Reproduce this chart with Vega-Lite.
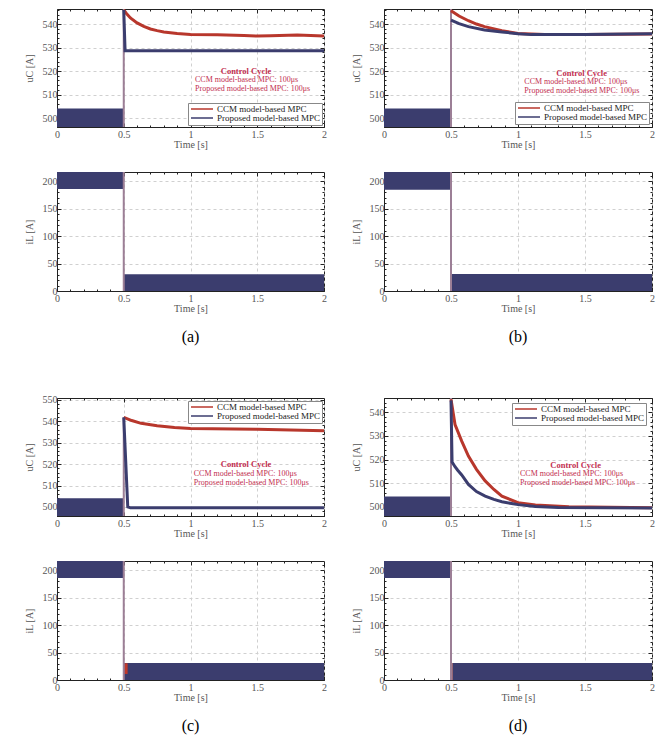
{
"$schema":"https://vega.github.io/schema/vega-lite/v6.json",
"padding":{"left":23,"top":4,"right":5,"bottom":5},
"datasets":{
"bands":[
{"panel":"a1","series":"Proposed","t0":0,"t1":0.5,"lo":496.2,"hi":504.1},
{"panel":"b1","series":"Proposed","t0":0,"t1":0.5,"lo":496.2,"hi":504.1},
{"panel":"c1","series":"Proposed","t0":0,"t1":0.5,"lo":495.8,"hi":504.1},
{"panel":"d1","series":"Proposed","t0":0,"t1":0.5,"lo":496.2,"hi":504.4},
{"panel":"a2","series":"Proposed","t0":0,"t1":0.5,"lo":186,"hi":217},
{"panel":"a2","series":"Proposed","t0":0.5,"t1":2,"lo":0,"hi":30.5},
{"panel":"b2","series":"Proposed","t0":0,"t1":0.5,"lo":184.5,"hi":217},
{"panel":"b2","series":"Proposed","t0":0.5,"t1":2,"lo":0,"hi":31},
{"panel":"c2","series":"Proposed","t0":0,"t1":0.5,"lo":186,"hi":217},
{"panel":"c2","series":"Proposed","t0":0.5,"t1":2,"lo":0,"hi":31},
{"panel":"c2","series":"CCM","t0":0.504,"t1":0.529,"lo":11,"hi":30.5},
{"panel":"d2","series":"Proposed","t0":0,"t1":0.5,"lo":186,"hi":217},
{"panel":"d2","series":"Proposed","t0":0.51,"t1":2,"lo":0,"hi":31},
{"panel":"d2","series":"CCM","t0":0.503,"t1":0.51,"lo":0,"hi":31}
],
"rules":[
{"panel":"a1","t":0.5,"lo":496.2,"hi":546.4},
{"panel":"b1","t":0.5,"lo":496.2,"hi":546.4},
{"panel":"c1","t":0.5,"lo":495.8,"hi":541.8},
{"panel":"d1","t":0.5,"lo":496.2,"hi":546},
{"panel":"a2","t":0.5,"lo":0,"hi":217},
{"panel":"b2","t":0.5,"lo":0,"hi":217},
{"panel":"c2","t":0.5,"lo":0,"hi":217},
{"panel":"d2","t":0.5,"lo":0,"hi":217}
],
"lines":[
{"panel":"a1","series":"CCM model-based MPC","t":0.5,"v":546},
{"panel":"a1","series":"CCM model-based MPC","t":0.52,"v":544.5},
{"panel":"a1","series":"CCM model-based MPC","t":0.55,"v":542.6},
{"panel":"a1","series":"CCM model-based MPC","t":0.6,"v":540.5},
{"panel":"a1","series":"CCM model-based MPC","t":0.65,"v":539},
{"panel":"a1","series":"CCM model-based MPC","t":0.7,"v":537.9},
{"panel":"a1","series":"CCM model-based MPC","t":0.75,"v":537.2},
{"panel":"a1","series":"CCM model-based MPC","t":0.8,"v":536.6},
{"panel":"a1","series":"CCM model-based MPC","t":0.9,"v":536},
{"panel":"a1","series":"CCM model-based MPC","t":1.0,"v":535.6},
{"panel":"a1","series":"CCM model-based MPC","t":1.2,"v":535.4},
{"panel":"a1","series":"CCM model-based MPC","t":1.4,"v":535.1},
{"panel":"a1","series":"CCM model-based MPC","t":1.5,"v":534.9},
{"panel":"a1","series":"CCM model-based MPC","t":1.6,"v":535},
{"panel":"a1","series":"CCM model-based MPC","t":1.8,"v":535.3},
{"panel":"a1","series":"CCM model-based MPC","t":2.0,"v":534.9},
{"panel":"a1","series":"Proposed model-based MPC","t":0.5,"v":546},
{"panel":"a1","series":"Proposed model-based MPC","t":0.51,"v":528.6},
{"panel":"a1","series":"Proposed model-based MPC","t":2.0,"v":528.6},
{"panel":"b1","series":"CCM model-based MPC","t":0.5,"v":545.7},
{"panel":"b1","series":"CCM model-based MPC","t":0.56,"v":543.4},
{"panel":"b1","series":"CCM model-based MPC","t":0.63,"v":541.4},
{"panel":"b1","series":"CCM model-based MPC","t":0.69,"v":540},
{"panel":"b1","series":"CCM model-based MPC","t":0.75,"v":538.9},
{"panel":"b1","series":"CCM model-based MPC","t":0.88,"v":537.2},
{"panel":"b1","series":"CCM model-based MPC","t":1.0,"v":536},
{"panel":"b1","series":"CCM model-based MPC","t":1.2,"v":535.6},
{"panel":"b1","series":"CCM model-based MPC","t":1.5,"v":535.6},
{"panel":"b1","series":"CCM model-based MPC","t":2.0,"v":535.8},
{"panel":"b1","series":"Proposed model-based MPC","t":0.5,"v":541.7},
{"panel":"b1","series":"Proposed model-based MPC","t":0.56,"v":540.2},
{"panel":"b1","series":"Proposed model-based MPC","t":0.63,"v":538.9},
{"panel":"b1","series":"Proposed model-based MPC","t":0.75,"v":537.5},
{"panel":"b1","series":"Proposed model-based MPC","t":0.88,"v":536.6},
{"panel":"b1","series":"Proposed model-based MPC","t":1.0,"v":535.9},
{"panel":"b1","series":"Proposed model-based MPC","t":1.1,"v":535.5},
{"panel":"b1","series":"Proposed model-based MPC","t":1.5,"v":535.6},
{"panel":"b1","series":"Proposed model-based MPC","t":2.0,"v":535.9},
{"panel":"c1","series":"CCM model-based MPC","t":0.5,"v":541.8},
{"panel":"c1","series":"CCM model-based MPC","t":0.56,"v":540.3},
{"panel":"c1","series":"CCM model-based MPC","t":0.63,"v":539},
{"panel":"c1","series":"CCM model-based MPC","t":0.75,"v":537.9},
{"panel":"c1","series":"CCM model-based MPC","t":0.88,"v":537.1},
{"panel":"c1","series":"CCM model-based MPC","t":1.0,"v":536.6},
{"panel":"c1","series":"CCM model-based MPC","t":1.5,"v":536.2},
{"panel":"c1","series":"CCM model-based MPC","t":2.0,"v":535.5},
{"panel":"c1","series":"Proposed model-based MPC","t":0.5,"v":541.8},
{"panel":"c1","series":"Proposed model-based MPC","t":0.53,"v":500},
{"panel":"c1","series":"Proposed model-based MPC","t":0.55,"v":499.6},
{"panel":"c1","series":"Proposed model-based MPC","t":2.0,"v":499.7},
{"panel":"d1","series":"CCM model-based MPC","t":0.5,"v":545.5},
{"panel":"d1","series":"CCM model-based MPC","t":0.53,"v":534.8},
{"panel":"d1","series":"CCM model-based MPC","t":0.58,"v":527.8},
{"panel":"d1","series":"CCM model-based MPC","t":0.63,"v":521.5},
{"panel":"d1","series":"CCM model-based MPC","t":0.69,"v":515.9},
{"panel":"d1","series":"CCM model-based MPC","t":0.755,"v":511},
{"panel":"d1","series":"CCM model-based MPC","t":0.82,"v":507.4},
{"panel":"d1","series":"CCM model-based MPC","t":0.88,"v":504.6},
{"panel":"d1","series":"CCM model-based MPC","t":1.0,"v":501.8},
{"panel":"d1","series":"CCM model-based MPC","t":1.13,"v":500.8},
{"panel":"d1","series":"CCM model-based MPC","t":1.38,"v":500.1},
{"panel":"d1","series":"CCM model-based MPC","t":2.0,"v":499.7},
{"panel":"d1","series":"Proposed model-based MPC","t":0.5,"v":545},
{"panel":"d1","series":"Proposed model-based MPC","t":0.508,"v":519},
{"panel":"d1","series":"Proposed model-based MPC","t":0.53,"v":517},
{"panel":"d1","series":"Proposed model-based MPC","t":0.55,"v":515.5},
{"panel":"d1","series":"Proposed model-based MPC","t":0.58,"v":513.5},
{"panel":"d1","series":"Proposed model-based MPC","t":0.63,"v":509.5},
{"panel":"d1","series":"Proposed model-based MPC","t":0.69,"v":506.5},
{"panel":"d1","series":"Proposed model-based MPC","t":0.755,"v":504.6},
{"panel":"d1","series":"Proposed model-based MPC","t":0.82,"v":503.2},
{"panel":"d1","series":"Proposed model-based MPC","t":0.88,"v":502.2},
{"panel":"d1","series":"Proposed model-based MPC","t":1.0,"v":501},
{"panel":"d1","series":"Proposed model-based MPC","t":1.13,"v":500.2},
{"panel":"d1","series":"Proposed model-based MPC","t":1.3,"v":499.8},
{"panel":"d1","series":"Proposed model-based MPC","t":2.0,"v":499.6}
],
"notes":[
{"panel":"a1","kind":"head","t":1.416,"v":520.1,"text":"Control Cycle"},
{"panel":"a1","kind":"body","t":1.034,"v":516.2,"text":"CCM model-based MPC: 100μs"},
{"panel":"a1","kind":"body","t":1.034,"v":512.5,"text":"Proposed model-based MPC: 100μs"},
{"panel":"b1","kind":"head","t":1.475,"v":519.3,"text":"Control Cycle"},
{"panel":"b1","kind":"body","t":1.047,"v":515.5,"text":"CCM model-based MPC: 100μs"},
{"panel":"b1","kind":"body","t":1.047,"v":511.6,"text":"Proposed model-based MPC: 100μs"},
{"panel":"c1","kind":"head","t":1.416,"v":520,"text":"Control Cycle"},
{"panel":"c1","kind":"body","t":1.024,"v":515.6,"text":"CCM model-based MPC: 100μs"},
{"panel":"c1","kind":"body","t":1.024,"v":511.2,"text":"Proposed model-based MPC: 100μs"},
{"panel":"d1","kind":"head","t":1.43,"v":517.7,"text":"Control Cycle"},
{"panel":"d1","kind":"body","t":1.015,"v":514.1,"text":"CCM model-based MPC: 100μs"},
{"panel":"d1","kind":"body","t":1.015,"v":510.1,"text":"Proposed model-based MPC: 100μs"}
]
},
"spacing":46,
"resolve":{"scale":{"x":"independent","y":"independent","color":"independent"},"legend":{"color":"independent"}},
"vconcat":[
{"hconcat":[
 {"spacing":20,"vconcat":[
  {"width":267,"height":118,
   "resolve":{"axis":{"x":"independent","y":"independent"}},
   "layer":[
    {"data":{"name":"bands"},"transform":[{"filter":"datum.panel === 'a1'"}],"mark":{"type":"rect","color":"#3b3d6e","clip":true},
     "encoding":{"x":{"field":"t0","type":"quantitative","scale":{"domain":[0,2],"nice":false},"axis":{"values":[0,0.1,0.2,0.3,0.4,0.5,0.6,0.7,0.8,0.9,1,1.1,1.2,1.3,1.4,1.5,1.6,1.7,1.8,1.9,2],"format":"~g","labelExpr":"datum.value % 0.5 === 0 ? datum.label : ''","title":"Time [s]","tickSize":{"condition":{"test":"datum.value % 0.5 !== 0","value":-2},"value":-4},"gridOpacity":{"condition":{"test":"datum.value % 0.5 !== 0","value":0},"value":1},"labelOverlap":false,"labelFlush":false,"labelPadding":6,"titlePadding":-2}},
      "x2":{"field":"t1"},
      "y":{"field":"lo","type":"quantitative","scale":{"domain":[496.2,546.4],"nice":false,"zero":false},"axis":{"values":[498,500,502,504,506,508,510,512,514,516,518,520,522,524,526,528,530,532,534,536,538,540,542,544,546],"labelExpr":"datum.value % 10 === 0 ? datum.label : ''","title":"uC [A]","tickSize":{"condition":{"test":"datum.value % 10 !== 0","value":-2},"value":-4},"gridOpacity":{"condition":{"test":"datum.value % 10 !== 0","value":0},"value":1},"labelOverlap":false,"labelFlush":false,"labelPadding":4,"titlePadding":8}},
      "y2":{"field":"hi"}}},
    {"data":{"name":"rules"},"transform":[{"filter":"datum.panel === 'a1'"}],"mark":{"type":"rule","color":"#9c7f96","strokeWidth":2,"clip":true},
     "encoding":{"x":{"field":"t","type":"quantitative","axis":{"orient":"top","values":[0,0.1,0.2,0.3,0.4,0.5,0.6,0.7,0.8,0.9,1,1.1,1.2,1.3,1.4,1.5,1.6,1.7,1.8,1.9,2],"labels":false,"title":null,"grid":false,"domain":false,"tickSize":{"condition":{"test":"datum.value % 0.5 !== 0","value":-2},"value":-4}}},
      "y":{"field":"lo","type":"quantitative","axis":{"orient":"right","values":[498,500,502,504,506,508,510,512,514,516,518,520,522,524,526,528,530,532,534,536,538,540,542,544,546],"labels":false,"title":null,"grid":false,"domain":false,"tickSize":{"condition":{"test":"datum.value % 10 !== 0","value":-2},"value":-4}}},
      "y2":{"field":"hi"}}},
    {"data":{"name":"lines"},"transform":[{"filter":"datum.panel === 'a1'"}],"mark":{"type":"line","strokeWidth":3,"clip":true},
     "encoding":{"x":{"field":"t","type":"quantitative","axis":null},"y":{"field":"v","type":"quantitative","axis":null},
      "color":{"field":"series","type":"nominal","scale":{"domain":["CCM model-based MPC","Proposed model-based MPC"],"range":["#b8372c","#3b3d6e"]},"legend":{"orient":"none","legendX":131,"legendY":94}}}},
    {"data":{"name":"notes"},"transform":[{"filter":"datum.panel === 'a1' && datum.kind === 'head'"}],"mark":{"type":"text","font":"Liberation Serif","fontSize":8.5,"fontWeight":"bold","color":"#c22e4f","align":"center","baseline":"middle"},
     "encoding":{"x":{"field":"t","type":"quantitative","axis":null},"y":{"field":"v","type":"quantitative","axis":null},"text":{"field":"text"}}},
    {"data":{"name":"notes"},"transform":[{"filter":"datum.panel === 'a1' && datum.kind === 'body'"}],"mark":{"type":"text","font":"Liberation Serif","fontSize":8,"color":"#c22e4f","align":"left","baseline":"middle"},
     "encoding":{"x":{"field":"t","type":"quantitative","axis":null},"y":{"field":"v","type":"quantitative","axis":null},"text":{"field":"text"}}}
   ]},
  {"width":267,"height":119,
   "title":{"text":"(a)","orient":"bottom","offset":16},
   "resolve":{"axis":{"x":"independent","y":"independent"}},
   "layer":[
    {"data":{"name":"bands"},"transform":[{"filter":"datum.panel === 'a2'"}],"mark":{"type":"rect","color":"#3b3d6e","clip":true},
     "encoding":{"x":{"field":"t0","type":"quantitative","scale":{"domain":[0,2],"nice":false},"axis":{"values":[0,0.1,0.2,0.3,0.4,0.5,0.6,0.7,0.8,0.9,1,1.1,1.2,1.3,1.4,1.5,1.6,1.7,1.8,1.9,2],"format":"~g","labelExpr":"datum.value % 0.5 === 0 ? datum.label : ''","title":"Time [s]","tickSize":{"condition":{"test":"datum.value % 0.5 !== 0","value":-2},"value":-4},"gridOpacity":{"condition":{"test":"datum.value % 0.5 !== 0","value":0},"value":1},"labelOverlap":false,"labelFlush":false,"labelPadding":6,"titlePadding":-2}},
      "x2":{"field":"t1"},
      "y":{"field":"lo","type":"quantitative","scale":{"domain":[0,217],"nice":false},"axis":{"values":[0,10,20,30,40,50,60,70,80,90,100,110,120,130,140,150,160,170,180,190,200,210],"labelExpr":"datum.value % 50 === 0 ? datum.label : ''","title":"iL [A]","tickSize":{"condition":{"test":"datum.value % 50 !== 0","value":-2},"value":-4},"gridOpacity":{"condition":{"test":"datum.value % 50 !== 0","value":0},"value":1},"labelOverlap":false,"labelFlush":false,"labelPadding":4,"titlePadding":8}},
      "y2":{"field":"hi"}}},
    {"data":{"name":"rules"},"transform":[{"filter":"datum.panel === 'a2'"}],"mark":{"type":"rule","color":"#9c7f96","strokeWidth":2,"clip":true},
     "encoding":{"x":{"field":"t","type":"quantitative","axis":{"orient":"top","values":[0,0.1,0.2,0.3,0.4,0.5,0.6,0.7,0.8,0.9,1,1.1,1.2,1.3,1.4,1.5,1.6,1.7,1.8,1.9,2],"labels":false,"title":null,"grid":false,"domain":false,"tickSize":{"condition":{"test":"datum.value % 0.5 !== 0","value":-2},"value":-4}}},
      "y":{"field":"lo","type":"quantitative","axis":{"orient":"right","values":[0,10,20,30,40,50,60,70,80,90,100,110,120,130,140,150,160,170,180,190,200,210],"labels":false,"title":null,"grid":false,"domain":false,"tickSize":{"condition":{"test":"datum.value % 50 !== 0","value":-2},"value":-4}}},
      "y2":{"field":"hi"}}}
   ]}
 ]},
 {"spacing":20,"vconcat":[
  {"width":268,"height":118,
   "resolve":{"axis":{"x":"independent","y":"independent"}},
   "layer":[
    {"data":{"name":"bands"},"transform":[{"filter":"datum.panel === 'b1'"}],"mark":{"type":"rect","color":"#3b3d6e","clip":true},
     "encoding":{"x":{"field":"t0","type":"quantitative","scale":{"domain":[0,2],"nice":false},"axis":{"values":[0,0.1,0.2,0.3,0.4,0.5,0.6,0.7,0.8,0.9,1,1.1,1.2,1.3,1.4,1.5,1.6,1.7,1.8,1.9,2],"format":"~g","labelExpr":"datum.value % 0.5 === 0 ? datum.label : ''","title":"Time [s]","tickSize":{"condition":{"test":"datum.value % 0.5 !== 0","value":-2},"value":-4},"gridOpacity":{"condition":{"test":"datum.value % 0.5 !== 0","value":0},"value":1},"labelOverlap":false,"labelFlush":false,"labelPadding":6,"titlePadding":-2}},
      "x2":{"field":"t1"},
      "y":{"field":"lo","type":"quantitative","scale":{"domain":[496.2,546.4],"nice":false,"zero":false},"axis":{"values":[498,500,502,504,506,508,510,512,514,516,518,520,522,524,526,528,530,532,534,536,538,540,542,544,546],"labelExpr":"datum.value % 10 === 0 ? datum.label : ''","title":"uC [A]","tickSize":{"condition":{"test":"datum.value % 10 !== 0","value":-2},"value":-4},"gridOpacity":{"condition":{"test":"datum.value % 10 !== 0","value":0},"value":1},"labelOverlap":false,"labelFlush":false,"labelPadding":4,"titlePadding":8}},
      "y2":{"field":"hi"}}},
    {"data":{"name":"rules"},"transform":[{"filter":"datum.panel === 'b1'"}],"mark":{"type":"rule","color":"#9c7f96","strokeWidth":2,"clip":true},
     "encoding":{"x":{"field":"t","type":"quantitative","axis":{"orient":"top","values":[0,0.1,0.2,0.3,0.4,0.5,0.6,0.7,0.8,0.9,1,1.1,1.2,1.3,1.4,1.5,1.6,1.7,1.8,1.9,2],"labels":false,"title":null,"grid":false,"domain":false,"tickSize":{"condition":{"test":"datum.value % 0.5 !== 0","value":-2},"value":-4}}},
      "y":{"field":"lo","type":"quantitative","axis":{"orient":"right","values":[498,500,502,504,506,508,510,512,514,516,518,520,522,524,526,528,530,532,534,536,538,540,542,544,546],"labels":false,"title":null,"grid":false,"domain":false,"tickSize":{"condition":{"test":"datum.value % 10 !== 0","value":-2},"value":-4}}},
      "y2":{"field":"hi"}}},
    {"data":{"name":"lines"},"transform":[{"filter":"datum.panel === 'b1'"}],"mark":{"type":"line","strokeWidth":3,"clip":true},
     "encoding":{"x":{"field":"t","type":"quantitative","axis":null},"y":{"field":"v","type":"quantitative","axis":null},
      "color":{"field":"series","type":"nominal","scale":{"domain":["CCM model-based MPC","Proposed model-based MPC"],"range":["#b8372c","#3b3d6e"]},"legend":{"orient":"none","legendX":131,"legendY":93}}}},
    {"data":{"name":"notes"},"transform":[{"filter":"datum.panel === 'b1' && datum.kind === 'head'"}],"mark":{"type":"text","font":"Liberation Serif","fontSize":8.5,"fontWeight":"bold","color":"#c22e4f","align":"center","baseline":"middle"},
     "encoding":{"x":{"field":"t","type":"quantitative","axis":null},"y":{"field":"v","type":"quantitative","axis":null},"text":{"field":"text"}}},
    {"data":{"name":"notes"},"transform":[{"filter":"datum.panel === 'b1' && datum.kind === 'body'"}],"mark":{"type":"text","font":"Liberation Serif","fontSize":8,"color":"#c22e4f","align":"left","baseline":"middle"},
     "encoding":{"x":{"field":"t","type":"quantitative","axis":null},"y":{"field":"v","type":"quantitative","axis":null},"text":{"field":"text"}}}
   ]},
  {"width":268,"height":119,
   "title":{"text":"(b)","orient":"bottom","offset":16},
   "resolve":{"axis":{"x":"independent","y":"independent"}},
   "layer":[
    {"data":{"name":"bands"},"transform":[{"filter":"datum.panel === 'b2'"}],"mark":{"type":"rect","color":"#3b3d6e","clip":true},
     "encoding":{"x":{"field":"t0","type":"quantitative","scale":{"domain":[0,2],"nice":false},"axis":{"values":[0,0.1,0.2,0.3,0.4,0.5,0.6,0.7,0.8,0.9,1,1.1,1.2,1.3,1.4,1.5,1.6,1.7,1.8,1.9,2],"format":"~g","labelExpr":"datum.value % 0.5 === 0 ? datum.label : ''","title":"Time [s]","tickSize":{"condition":{"test":"datum.value % 0.5 !== 0","value":-2},"value":-4},"gridOpacity":{"condition":{"test":"datum.value % 0.5 !== 0","value":0},"value":1},"labelOverlap":false,"labelFlush":false,"labelPadding":6,"titlePadding":-2}},
      "x2":{"field":"t1"},
      "y":{"field":"lo","type":"quantitative","scale":{"domain":[0,217],"nice":false},"axis":{"values":[0,10,20,30,40,50,60,70,80,90,100,110,120,130,140,150,160,170,180,190,200,210],"labelExpr":"datum.value % 50 === 0 ? datum.label : ''","title":"iL [A]","tickSize":{"condition":{"test":"datum.value % 50 !== 0","value":-2},"value":-4},"gridOpacity":{"condition":{"test":"datum.value % 50 !== 0","value":0},"value":1},"labelOverlap":false,"labelFlush":false,"labelPadding":4,"titlePadding":8}},
      "y2":{"field":"hi"}}},
    {"data":{"name":"rules"},"transform":[{"filter":"datum.panel === 'b2'"}],"mark":{"type":"rule","color":"#9c7f96","strokeWidth":2,"clip":true},
     "encoding":{"x":{"field":"t","type":"quantitative","axis":{"orient":"top","values":[0,0.1,0.2,0.3,0.4,0.5,0.6,0.7,0.8,0.9,1,1.1,1.2,1.3,1.4,1.5,1.6,1.7,1.8,1.9,2],"labels":false,"title":null,"grid":false,"domain":false,"tickSize":{"condition":{"test":"datum.value % 0.5 !== 0","value":-2},"value":-4}}},
      "y":{"field":"lo","type":"quantitative","axis":{"orient":"right","values":[0,10,20,30,40,50,60,70,80,90,100,110,120,130,140,150,160,170,180,190,200,210],"labels":false,"title":null,"grid":false,"domain":false,"tickSize":{"condition":{"test":"datum.value % 50 !== 0","value":-2},"value":-4}}},
      "y2":{"field":"hi"}}}
   ]}
 ]}
],"spacing":23,"resolve":{"scale":{"x":"independent","y":"independent","color":"independent"},"legend":{"color":"independent"}}},
{"hconcat":[
 {"spacing":20,"vconcat":[
  {"width":267,"height":118,
   "resolve":{"axis":{"x":"independent","y":"independent"}},
   "layer":[
    {"data":{"name":"bands"},"transform":[{"filter":"datum.panel === 'c1'"}],"mark":{"type":"rect","color":"#3b3d6e","clip":true},
     "encoding":{"x":{"field":"t0","type":"quantitative","scale":{"domain":[0,2],"nice":false},"axis":{"values":[0,0.1,0.2,0.3,0.4,0.5,0.6,0.7,0.8,0.9,1,1.1,1.2,1.3,1.4,1.5,1.6,1.7,1.8,1.9,2],"format":"~g","labelExpr":"datum.value % 0.5 === 0 ? datum.label : ''","title":"Time [s]","tickSize":{"condition":{"test":"datum.value % 0.5 !== 0","value":-2},"value":-4},"gridOpacity":{"condition":{"test":"datum.value % 0.5 !== 0","value":0},"value":1},"labelOverlap":false,"labelFlush":false,"labelPadding":6,"titlePadding":-2}},
      "x2":{"field":"t1"},
      "y":{"field":"lo","type":"quantitative","scale":{"domain":[495.8,550.8],"nice":false,"zero":false},"axis":{"values":[496,498,500,502,504,506,508,510,512,514,516,518,520,522,524,526,528,530,532,534,536,538,540,542,544,546,548,550],"labelExpr":"datum.value % 10 === 0 ? datum.label : ''","title":"uC [A]","tickSize":{"condition":{"test":"datum.value % 10 !== 0","value":-2},"value":-4},"gridOpacity":{"condition":{"test":"datum.value % 10 !== 0","value":0},"value":1},"labelOverlap":false,"labelFlush":false,"labelPadding":4,"titlePadding":8}},
      "y2":{"field":"hi"}}},
    {"data":{"name":"rules"},"transform":[{"filter":"datum.panel === 'c1'"}],"mark":{"type":"rule","color":"#9c7f96","strokeWidth":2,"clip":true},
     "encoding":{"x":{"field":"t","type":"quantitative","axis":{"orient":"top","values":[0,0.1,0.2,0.3,0.4,0.5,0.6,0.7,0.8,0.9,1,1.1,1.2,1.3,1.4,1.5,1.6,1.7,1.8,1.9,2],"labels":false,"title":null,"grid":false,"domain":false,"tickSize":{"condition":{"test":"datum.value % 0.5 !== 0","value":-2},"value":-4}}},
      "y":{"field":"lo","type":"quantitative","axis":{"orient":"right","values":[496,498,500,502,504,506,508,510,512,514,516,518,520,522,524,526,528,530,532,534,536,538,540,542,544,546,548,550],"labels":false,"title":null,"grid":false,"domain":false,"tickSize":{"condition":{"test":"datum.value % 10 !== 0","value":-2},"value":-4}}},
      "y2":{"field":"hi"}}},
    {"data":{"name":"lines"},"transform":[{"filter":"datum.panel === 'c1'"}],"mark":{"type":"line","strokeWidth":3,"clip":true},
     "encoding":{"x":{"field":"t","type":"quantitative","axis":null},"y":{"field":"v","type":"quantitative","axis":null},
      "color":{"field":"series","type":"nominal","scale":{"domain":["CCM model-based MPC","Proposed model-based MPC"],"range":["#b8372c","#3b3d6e"]},"legend":{"orient":"none","legendX":131,"legendY":3}}}},
    {"data":{"name":"notes"},"transform":[{"filter":"datum.panel === 'c1' && datum.kind === 'head'"}],"mark":{"type":"text","font":"Liberation Serif","fontSize":8.5,"fontWeight":"bold","color":"#c22e4f","align":"center","baseline":"middle"},
     "encoding":{"x":{"field":"t","type":"quantitative","axis":null},"y":{"field":"v","type":"quantitative","axis":null},"text":{"field":"text"}}},
    {"data":{"name":"notes"},"transform":[{"filter":"datum.panel === 'c1' && datum.kind === 'body'"}],"mark":{"type":"text","font":"Liberation Serif","fontSize":8,"color":"#c22e4f","align":"left","baseline":"middle"},
     "encoding":{"x":{"field":"t","type":"quantitative","axis":null},"y":{"field":"v","type":"quantitative","axis":null},"text":{"field":"text"}}}
   ]},
  {"width":267,"height":119,
   "title":{"text":"(c)","orient":"bottom","offset":16},
   "resolve":{"axis":{"x":"independent","y":"independent"}},
   "layer":[
    {"data":{"name":"bands"},"transform":[{"filter":"datum.panel === 'c2' && datum.series === 'Proposed'"}],"mark":{"type":"rect","color":"#3b3d6e","clip":true},
     "encoding":{"x":{"field":"t0","type":"quantitative","scale":{"domain":[0,2],"nice":false},"axis":{"values":[0,0.1,0.2,0.3,0.4,0.5,0.6,0.7,0.8,0.9,1,1.1,1.2,1.3,1.4,1.5,1.6,1.7,1.8,1.9,2],"format":"~g","labelExpr":"datum.value % 0.5 === 0 ? datum.label : ''","title":"Time [s]","tickSize":{"condition":{"test":"datum.value % 0.5 !== 0","value":-2},"value":-4},"gridOpacity":{"condition":{"test":"datum.value % 0.5 !== 0","value":0},"value":1},"labelOverlap":false,"labelFlush":false,"labelPadding":6,"titlePadding":-2}},
      "x2":{"field":"t1"},
      "y":{"field":"lo","type":"quantitative","scale":{"domain":[0,217],"nice":false},"axis":{"values":[0,10,20,30,40,50,60,70,80,90,100,110,120,130,140,150,160,170,180,190,200,210],"labelExpr":"datum.value % 50 === 0 ? datum.label : ''","title":"iL [A]","tickSize":{"condition":{"test":"datum.value % 50 !== 0","value":-2},"value":-4},"gridOpacity":{"condition":{"test":"datum.value % 50 !== 0","value":0},"value":1},"labelOverlap":false,"labelFlush":false,"labelPadding":4,"titlePadding":8}},
      "y2":{"field":"hi"}}},
    {"data":{"name":"bands"},"transform":[{"filter":"datum.panel === 'c2' && datum.series === 'CCM'"}],"mark":{"type":"rect","color":"#c0392b","clip":true},
     "encoding":{"x":{"field":"t0","type":"quantitative","axis":null},"x2":{"field":"t1"},"y":{"field":"lo","type":"quantitative","axis":null},"y2":{"field":"hi"}}},
    {"data":{"name":"rules"},"transform":[{"filter":"datum.panel === 'c2'"}],"mark":{"type":"rule","color":"#9c7f96","strokeWidth":2,"clip":true},
     "encoding":{"x":{"field":"t","type":"quantitative","axis":{"orient":"top","values":[0,0.1,0.2,0.3,0.4,0.5,0.6,0.7,0.8,0.9,1,1.1,1.2,1.3,1.4,1.5,1.6,1.7,1.8,1.9,2],"labels":false,"title":null,"grid":false,"domain":false,"tickSize":{"condition":{"test":"datum.value % 0.5 !== 0","value":-2},"value":-4}}},
      "y":{"field":"lo","type":"quantitative","axis":{"orient":"right","values":[0,10,20,30,40,50,60,70,80,90,100,110,120,130,140,150,160,170,180,190,200,210],"labels":false,"title":null,"grid":false,"domain":false,"tickSize":{"condition":{"test":"datum.value % 50 !== 0","value":-2},"value":-4}}},
      "y2":{"field":"hi"}}}
   ]}
 ]},
 {"spacing":20,"vconcat":[
  {"width":268,"height":118,
   "resolve":{"axis":{"x":"independent","y":"independent"}},
   "layer":[
    {"data":{"name":"bands"},"transform":[{"filter":"datum.panel === 'd1'"}],"mark":{"type":"rect","color":"#3b3d6e","clip":true},
     "encoding":{"x":{"field":"t0","type":"quantitative","scale":{"domain":[0,2],"nice":false},"axis":{"values":[0,0.1,0.2,0.3,0.4,0.5,0.6,0.7,0.8,0.9,1,1.1,1.2,1.3,1.4,1.5,1.6,1.7,1.8,1.9,2],"format":"~g","labelExpr":"datum.value % 0.5 === 0 ? datum.label : ''","title":"Time [s]","tickSize":{"condition":{"test":"datum.value % 0.5 !== 0","value":-2},"value":-4},"gridOpacity":{"condition":{"test":"datum.value % 0.5 !== 0","value":0},"value":1},"labelOverlap":false,"labelFlush":false,"labelPadding":6,"titlePadding":-2}},
      "x2":{"field":"t1"},
      "y":{"field":"lo","type":"quantitative","scale":{"domain":[496.2,546],"nice":false,"zero":false},"axis":{"values":[498,500,502,504,506,508,510,512,514,516,518,520,522,524,526,528,530,532,534,536,538,540,542,544,546],"labelExpr":"datum.value % 10 === 0 ? datum.label : ''","title":"uC [A]","tickSize":{"condition":{"test":"datum.value % 10 !== 0","value":-2},"value":-4},"gridOpacity":{"condition":{"test":"datum.value % 10 !== 0","value":0},"value":1},"labelOverlap":false,"labelFlush":false,"labelPadding":4,"titlePadding":8}},
      "y2":{"field":"hi"}}},
    {"data":{"name":"rules"},"transform":[{"filter":"datum.panel === 'd1'"}],"mark":{"type":"rule","color":"#9c7f96","strokeWidth":2,"clip":true},
     "encoding":{"x":{"field":"t","type":"quantitative","axis":{"orient":"top","values":[0,0.1,0.2,0.3,0.4,0.5,0.6,0.7,0.8,0.9,1,1.1,1.2,1.3,1.4,1.5,1.6,1.7,1.8,1.9,2],"labels":false,"title":null,"grid":false,"domain":false,"tickSize":{"condition":{"test":"datum.value % 0.5 !== 0","value":-2},"value":-4}}},
      "y":{"field":"lo","type":"quantitative","axis":{"orient":"right","values":[498,500,502,504,506,508,510,512,514,516,518,520,522,524,526,528,530,532,534,536,538,540,542,544,546],"labels":false,"title":null,"grid":false,"domain":false,"tickSize":{"condition":{"test":"datum.value % 10 !== 0","value":-2},"value":-4}}},
      "y2":{"field":"hi"}}},
    {"data":{"name":"lines"},"transform":[{"filter":"datum.panel === 'd1'"}],"mark":{"type":"line","strokeWidth":3,"clip":true},
     "encoding":{"x":{"field":"t","type":"quantitative","axis":null},"y":{"field":"v","type":"quantitative","axis":null},
      "color":{"field":"series","type":"nominal","scale":{"domain":["CCM model-based MPC","Proposed model-based MPC"],"range":["#b8372c","#3b3d6e"]},"legend":{"orient":"none","legendX":128,"legendY":5}}}},
    {"data":{"name":"notes"},"transform":[{"filter":"datum.panel === 'd1' && datum.kind === 'head'"}],"mark":{"type":"text","font":"Liberation Serif","fontSize":8.5,"fontWeight":"bold","color":"#c22e4f","align":"center","baseline":"middle"},
     "encoding":{"x":{"field":"t","type":"quantitative","axis":null},"y":{"field":"v","type":"quantitative","axis":null},"text":{"field":"text"}}},
    {"data":{"name":"notes"},"transform":[{"filter":"datum.panel === 'd1' && datum.kind === 'body'"}],"mark":{"type":"text","font":"Liberation Serif","fontSize":8,"color":"#c22e4f","align":"left","baseline":"middle"},
     "encoding":{"x":{"field":"t","type":"quantitative","axis":null},"y":{"field":"v","type":"quantitative","axis":null},"text":{"field":"text"}}}
   ]},
  {"width":268,"height":119,
   "title":{"text":"(d)","orient":"bottom","offset":16},
   "resolve":{"axis":{"x":"independent","y":"independent"}},
   "layer":[
    {"data":{"name":"bands"},"transform":[{"filter":"datum.panel === 'd2' && datum.series === 'Proposed'"}],"mark":{"type":"rect","color":"#3b3d6e","clip":true},
     "encoding":{"x":{"field":"t0","type":"quantitative","scale":{"domain":[0,2],"nice":false},"axis":{"values":[0,0.1,0.2,0.3,0.4,0.5,0.6,0.7,0.8,0.9,1,1.1,1.2,1.3,1.4,1.5,1.6,1.7,1.8,1.9,2],"format":"~g","labelExpr":"datum.value % 0.5 === 0 ? datum.label : ''","title":"Time [s]","tickSize":{"condition":{"test":"datum.value % 0.5 !== 0","value":-2},"value":-4},"gridOpacity":{"condition":{"test":"datum.value % 0.5 !== 0","value":0},"value":1},"labelOverlap":false,"labelFlush":false,"labelPadding":6,"titlePadding":-2}},
      "x2":{"field":"t1"},
      "y":{"field":"lo","type":"quantitative","scale":{"domain":[0,217],"nice":false},"axis":{"values":[0,10,20,30,40,50,60,70,80,90,100,110,120,130,140,150,160,170,180,190,200,210],"labelExpr":"datum.value % 50 === 0 ? datum.label : ''","title":"iL [A]","tickSize":{"condition":{"test":"datum.value % 50 !== 0","value":-2},"value":-4},"gridOpacity":{"condition":{"test":"datum.value % 50 !== 0","value":0},"value":1},"labelOverlap":false,"labelFlush":false,"labelPadding":4,"titlePadding":8}},
      "y2":{"field":"hi"}}},
    {"data":{"name":"bands"},"transform":[{"filter":"datum.panel === 'd2' && datum.series === 'CCM'"}],"mark":{"type":"rect","color":"#c0392b","clip":true},
     "encoding":{"x":{"field":"t0","type":"quantitative","axis":null},"x2":{"field":"t1"},"y":{"field":"lo","type":"quantitative","axis":null},"y2":{"field":"hi"}}},
    {"data":{"name":"rules"},"transform":[{"filter":"datum.panel === 'd2'"}],"mark":{"type":"rule","color":"#9c7f96","strokeWidth":2,"clip":true},
     "encoding":{"x":{"field":"t","type":"quantitative","axis":{"orient":"top","values":[0,0.1,0.2,0.3,0.4,0.5,0.6,0.7,0.8,0.9,1,1.1,1.2,1.3,1.4,1.5,1.6,1.7,1.8,1.9,2],"labels":false,"title":null,"grid":false,"domain":false,"tickSize":{"condition":{"test":"datum.value % 0.5 !== 0","value":-2},"value":-4}}},
      "y":{"field":"lo","type":"quantitative","axis":{"orient":"right","values":[0,10,20,30,40,50,60,70,80,90,100,110,120,130,140,150,160,170,180,190,200,210],"labels":false,"title":null,"grid":false,"domain":false,"tickSize":{"condition":{"test":"datum.value % 50 !== 0","value":-2},"value":-4}}},
      "y2":{"field":"hi"}}}
   ]}
 ]}
],"spacing":23,"resolve":{"scale":{"x":"independent","y":"independent","color":"independent"},"legend":{"color":"independent"}}}
],
"config":{
 "view":{"stroke":"#222","strokeWidth":1},
 "axis":{"labelFont":"Liberation Serif","titleFont":"Liberation Serif","labelFontSize":10,"titleFontSize":10,"labelColor":"#555","titleColor":"#555","titleFontWeight":"normal","domainColor":"#222","tickColor":"#222","gridColor":"#d0d0d0","gridDash":[3,3]},
 "legend":{"title":null,"padding":2,"strokeColor":"#888","fillColor":"white","symbolType":"stroke","symbolSize":484,"symbolStrokeWidth":1.5,"clipHeight":8,"labelFont":"Liberation Serif","labelFontSize":9,"labelColor":"#222","rowPadding":0,"labelOffset":3,"cornerRadius":0},
 "title":{"font":"Liberation Serif","fontSize":16,"fontWeight":"normal","color":"#000"}
}
}
